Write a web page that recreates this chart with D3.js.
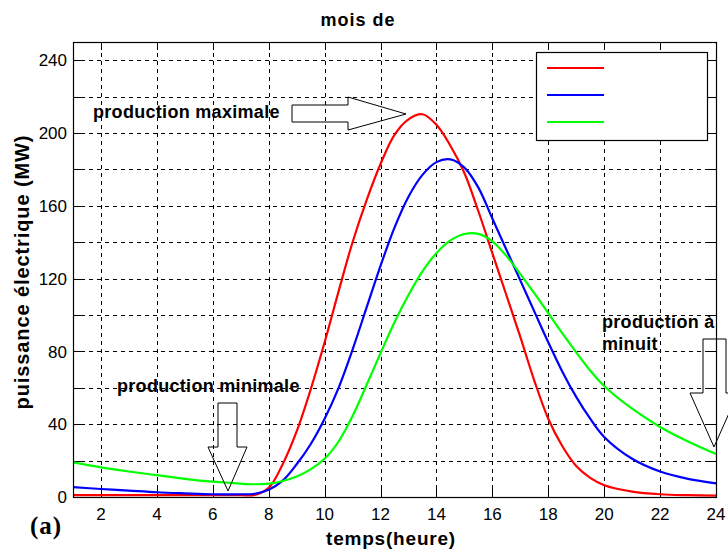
<!DOCTYPE html>
<html>
<head>
<meta charset="utf-8">
<script src="https://cdn.jsdelivr.net/npm/d3@7"></script>
<style>
body { margin: 0; background: #fff; }
svg { display: block; font-family: "Liberation Sans", Arial, sans-serif; }
.tick-label { font-size: 17px; fill: #000; }
.bold { font-weight: bold; fill: #000; }
</style>
</head>
<body>
<div id="chart"></div>
<script>
const hours = [1,2,3,4,5,6,7,7.5,8,8.5,9,9.5,10,10.5,11,11.5,12,12.5,13,13.5,14,14.5,15,15.5,16,16.5,17,17.5,18,18.5,19,19.5,20,21,22,23,24];

const seriesRed = [1,1,1,1,1,1,1,1.2,5,18,36,59,85,113,140,163,183,199,207.5,210.3,204.5,193,178,157,134,111,88,64,43,28,17,10.5,6.5,3,1.5,1,0.8];
const seriesBlue = [5.4,4.4,3.5,2.6,2,1.5,1.5,1.8,4,9,18,29,43,60,81,104,127,148,165,177,184,185.5,181,170,153,136,119,102,85,69,55,43,33,21,14,10,7.5];
const seriesGreen = [19,16.3,14,12,10,8.4,7.3,7,7.3,8.8,11.3,15.2,21,30.5,44.5,61.5,79,96,111,124,134,141,144.5,144.6,140.5,132.5,122.5,112,101,90,79.5,69.5,61,48.5,38.5,30.5,23.6];

const xTicks = [2,4,6,8,10,12,14,16,18,20,22,24];
const yTicks = [0,40,80,120,160,200,240];
const yGrid = [20,40,60,80,100,120,140,160,180,200,220,240];

const width = 728, height = 551;
const margin = {top: 42, right: 12, bottom: 54, left: 73};

const svg = d3.select('#chart')
.append('svg')
.attr('width', width)
.attr('height', height)

const x = d3.scaleLinear()
.domain([1, 24])
.range([margin.left, width - margin.right])

const y = d3.scaleLinear()
.domain([0, 250])
.range([height - margin.bottom, margin.top])

const x0 = x.range()[0], x1 = x.range()[1];
const y0 = y.range()[0], y1 = y.range()[1];

// dashed grid
const grid = svg.append('g')
.attr('stroke', '#000')
.attr('stroke-width', 1)
.attr('stroke-dasharray', '4,4')

grid.selectAll('.gx')
.data(xTicks.filter(d => d < 24))
.enter()
.append('line')
.attr('x1', d => Math.round(x(d)) + 0.5)
.attr('x2', d => Math.round(x(d)) + 0.5)
.attr('y1', y0)
.attr('y2', y1)

grid.selectAll('.gy')
.data(yGrid)
.enter()
.append('line')
.attr('x1', x0)
.attr('x2', x1)
.attr('y1', d => Math.round(y(d)) + 0.5)
.attr('y2', d => Math.round(y(d)) + 0.5)

// inward ticks on all four sides
const tickLen = 8;
const ticks = svg.append('g').attr('stroke', '#000').attr('stroke-width', 1)

xTicks.forEach(d => {
	let px = Math.round(x(d)) + 0.5;
	ticks.append('line').attr('x1', px).attr('x2', px).attr('y1', y0).attr('y2', y0 - tickLen)
	ticks.append('line').attr('x1', px).attr('x2', px).attr('y1', y1).attr('y2', y1 + tickLen)
})

yGrid.forEach(d => {
	let py = Math.round(y(d)) + 0.5;
	ticks.append('line').attr('x1', x0).attr('x2', x0 + tickLen).attr('y1', py).attr('y2', py)
	ticks.append('line').attr('x1', x1).attr('x2', x1 - tickLen).attr('y1', py).attr('y2', py)
})

svg.selectAll('.xlab')
.data(xTicks)
.enter()
.append('text')
.attr('class', 'tick-label')
.attr('x', d => x(d))
.attr('y', 520)
.attr('text-anchor', 'middle')
.text(d => d)

svg.selectAll('.ylab')
.data(yTicks)
.enter()
.append('text')
.attr('class', 'tick-label')
.attr('x', 67)
.attr('y', d => y(d))
.attr('dy', '0.36em')
.attr('text-anchor', 'end')
.text(d => d)

// curves
const line = d3.line()
.x((d, i) => x(hours[i]))
.y(d => y(d))
.curve(d3.curveCatmullRom.alpha(0.5))

const series = [
	{values: seriesRed, color: '#ff0000'},
	{values: seriesBlue, color: '#0000ff'},
	{values: seriesGreen, color: '#00ff00'}
];

svg.selectAll('.curve')
.data(series)
.enter()
.append('path')
.attr('d', d => line(d.values))
.attr('fill', 'none')
.attr('stroke', d => d.color)
.attr('stroke-width', 2.2)

// frame
svg.append('rect')
.attr('x', x0 + 0.5)
.attr('y', y1 + 0.5)
.attr('width', x1 - x0)
.attr('height', y0 - y1)
.attr('fill', 'none')
.attr('stroke', '#000')
.attr('stroke-width', 1.2)

// legend (no labels in the original)
const legend = svg.append('g')

legend.append('rect')
.attr('x', 536.5)
.attr('y', 52.5)
.attr('width', 171)
.attr('height', 88)
.attr('fill', '#fff')
.attr('stroke', '#000')
.attr('stroke-width', 1.2)

legend.selectAll('.lk')
.data(series)
.enter()
.append('line')
.attr('x1', 547)
.attr('x2', 604)
.attr('y1', (d, i) => 68 + i * 27)
.attr('y2', (d, i) => 68 + i * 27)
.attr('stroke', d => d.color)
.attr('stroke-width', 2.2)

// titles
svg.append('text')
.attr('class', 'bold')
.attr('x', 358)
.attr('y', 26)
.attr('text-anchor', 'middle')
.style('font-size', '18px')
.style('letter-spacing', '1px')
.text('mois de')

svg.append('text')
.attr('class', 'bold')
.attr('x', 391)
.attr('y', 545)
.attr('text-anchor', 'middle')
.style('font-size', '19px')
.style('letter-spacing', '0.8px')
.text('temps(heure)')

svg.append('text')
.attr('class', 'bold')
.attr('transform', 'translate(29,272) rotate(-90)')
.attr('text-anchor', 'middle')
.style('font-size', '20px')
.style('letter-spacing', '0.9px')
.text('puissance électrique (MW)')

svg.append('text')
.attr('class', 'bold')
.attr('x', 30)
.attr('y', 534)
.style('font-family', '"Liberation Serif", "Times New Roman", serif')
.style('font-size', '25px')
.style('letter-spacing', '1px')
.text('(a)')

// annotations
const notes = [
	{text: 'production maximale', x: 93, y: 118},
	{text: 'production minimale', x: 117, y: 392},
	{text: 'production à', x: 602, y: 328},
	{text: 'minuit', x: 602, y: 350}
];

svg.selectAll('.note')
.data(notes)
.enter()
.append('text')
.attr('class', 'bold')
.attr('x', d => d.x)
.attr('y', d => d.y)
.style('font-size', '18px')
.style('letter-spacing', '0.3px')
.text(d => d.text)

const arrows = [
	[[292,105],[348,105],[348,97],[406,114],[348,130],[348,122],[292,122]],
	[[218,403],[237,403],[237,447],[247,447],[228,491],[208,447],[218,447]],
	[[703,339],[726,339],[726,393],[738,393],[714,447],[690,393],[703,393]]
];

svg.selectAll('.arrow')
.data(arrows)
.enter()
.append('path')
.attr('d', d => 'M' + d.join('L') + 'Z')
.attr('fill', 'none')
.attr('stroke', '#000')
.attr('stroke-width', 1)
</script>
</body>
</html>
